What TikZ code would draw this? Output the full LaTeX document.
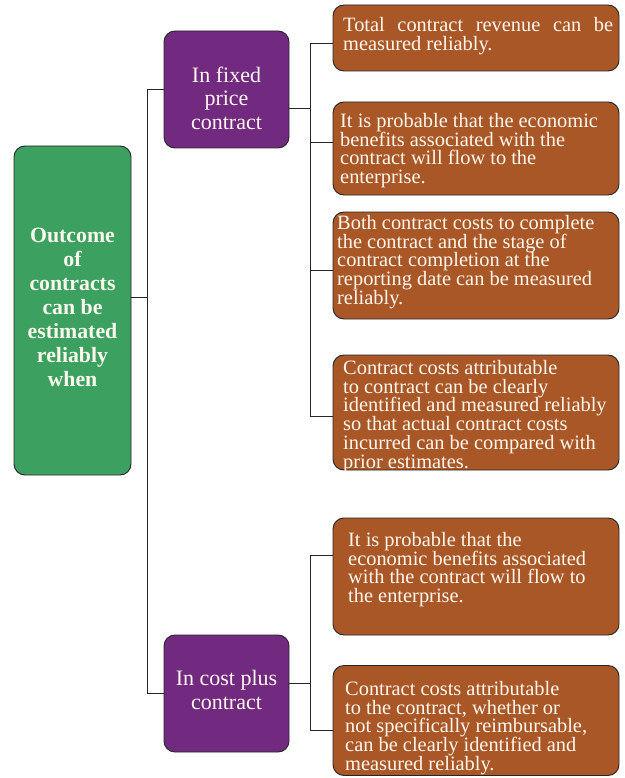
\documentclass[tikz,border=0pt]{standalone}
\usepackage{fontspec}
\setmainfont{Liberation Serif}
\definecolor{gboxc}{RGB}{59,160,96}
\definecolor{pboxc}{RGB}{114,42,128}
\definecolor{oboxc}{RGB}{170,87,40}
\definecolor{txtc}{RGB}{253,248,238}
\tikzset{
  box/.style={draw=black!85, line width=0.9pt, rounded corners=11pt, inner sep=0pt},
  gbox/.style={box, fill=gboxc},
  pbox/.style={box, fill=pboxc, minimum width=125pt, minimum height=117pt},
  obox/.style={box, fill=oboxc, minimum width=286pt},
  otxt/.style={text=txtc, inner sep=0pt, align=left, anchor=north west, font=\fontsize{20.4}{18.8}\selectfont},
  ptxt/.style={text=txtc, inner sep=0pt, align=center, font=\fontsize{22}{23.5}\selectfont},
  gtxt/.style={text=txtc, inner sep=0pt, align=center, font=\bfseries\fontsize{21.8}{24}\selectfont},
  link/.style={draw=black!85, line width=0.9pt}
}
\begin{document}
\begin{tikzpicture}[x=1pt,y=-1pt]
\useasboundingbox (0,0) rectangle (624,778);

% boxes
\node[gbox, minimum width=117pt, minimum height=329pt] (g) at (72.5,310.5) {};
\node[pbox] (p1) at (226.5,89.5) {};
\node[pbox] (p2) at (226.5,693.5) {};
\node[obox, minimum height=66pt]  (o1) at (476,38) {};
\node[obox, minimum height=93pt]  (o2) at (476,148.5) {};
\node[obox, minimum height=107pt] (o3) at (476,265.5) {};
\node[obox, minimum height=115pt] (o4) at (476,412.5) {};
\node[obox, minimum height=117pt] (o5) at (476,576.5) {};
\node[obox, minimum height=110pt] (o6) at (476,720.5) {};

% texts
\node[gtxt] (gt) at (72.5,307) {Outcome\\of\\contracts\\can be\\estimated\\reliably\\when};
\node[ptxt] (p1t) at (226.5,98) {In fixed\\price\\contract};
\node[ptxt] (p2t) at (226.5,690) {In cost plus\\contract};
\node[otxt] (o1t) at (343,17) {\makebox[270pt][s]{Total contract revenue can be}\\measured reliably.};
\node[otxt] (o2t) at (340,113) {It is probable that the economic\\benefits associated with the\\contract will flow to the\\enterprise.};
\node[otxt] (o3t) at (337,215) {Both contract costs to complete\\the contract and the stage of\\contract completion at the\\reporting date can be measured\\reliably.};
\node[otxt] (o4t) at (343,360) {Contract costs attributable\\to contract can be clearly\\identified and measured reliably\\so that actual contract costs\\incurred can be compared with\\prior estimates.};
\node[otxt] (o5t) at (348,532) {It is probable that the\\economic benefits associated\\with the contract will flow to\\the enterprise.};
\node[otxt] (o6t) at (345,681) {Contract costs attributable\\to the contract, whether or\\not specifically reimbursable,\\can be clearly identified and\\measured reliably.};

% junction coordinates
\coordinate (j0) at (147,297);
\coordinate (j0a) at (147,89.5);
\coordinate (j0b) at (147,693.5);
\coordinate (j1) at (310,108);
\coordinate (j1a) at (310,43);
\coordinate (j1b) at (310,142);
\coordinate (j1c) at (310,270);
\coordinate (j1d) at (310,416);
\coordinate (j2) at (310,683);
\coordinate (j2a) at (310,555);
\coordinate (j2b) at (310,730);

% connectors
\draw[link] (g.east |- j0) -- (j0);
\draw[link] (p1.west) -- (j0a) -- (j0b) -- (p2.west);
\draw[link] (p1.east |- j1) -- (j1);
\draw[link] (o1.west |- j1a) -- (j1a) -- (j1d) -- (o4.west |- j1d);
\draw[link] (j1b) -- (o2.west |- j1b);
\draw[link] (j1c) -- (o3.west |- j1c);
\draw[link] (p2.east |- j2) -- (j2);
\draw[link] (o5.west |- j2a) -- (j2a) -- (j2b) -- (o6.west |- j2b);
\end{tikzpicture}
\end{document}
